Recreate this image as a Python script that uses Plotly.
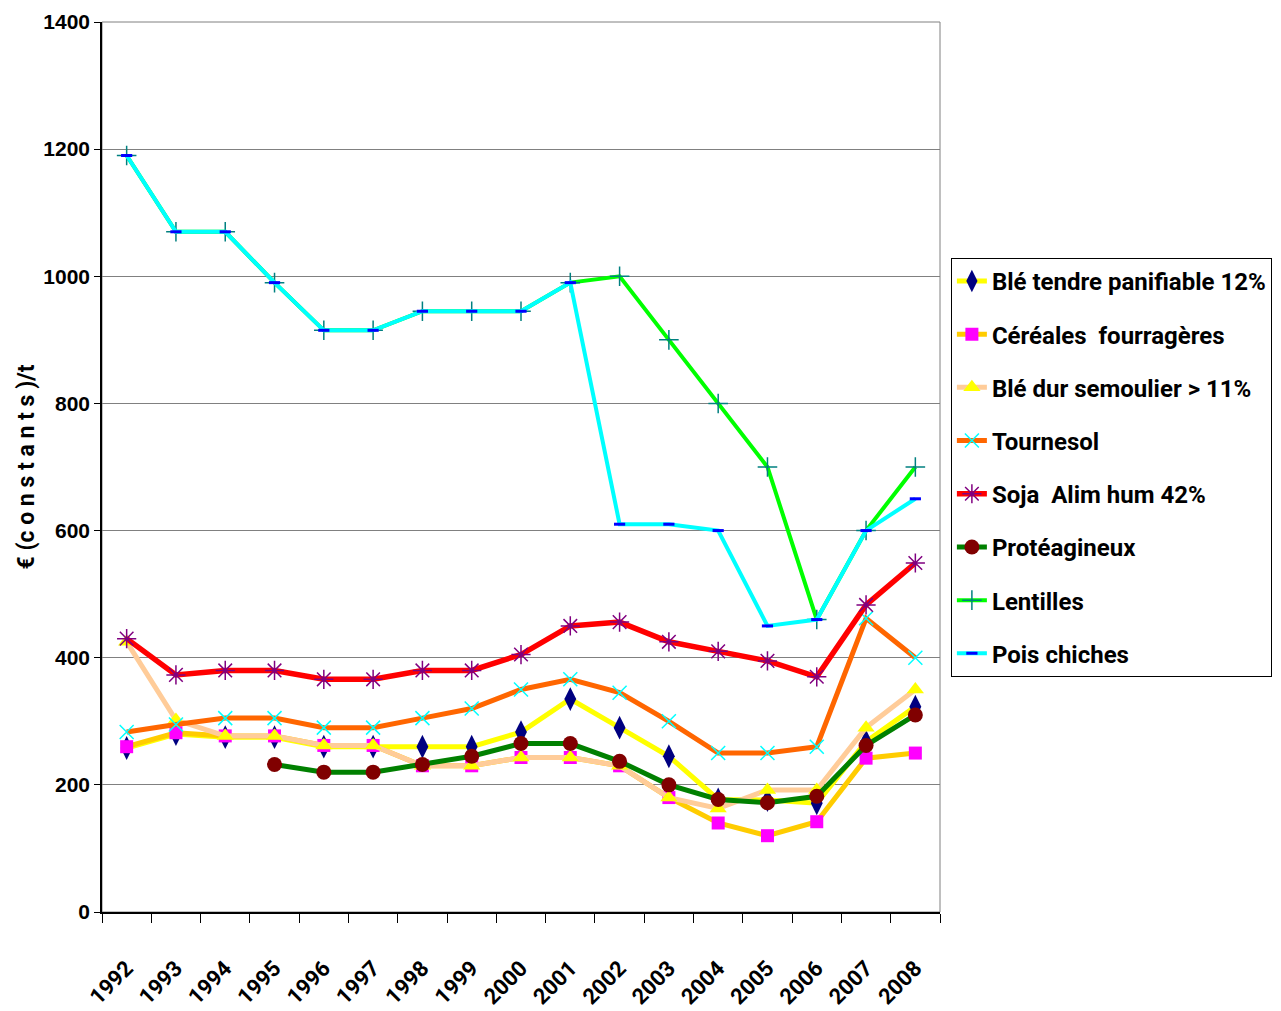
import plotly.graph_objects as go

years = [str(y) for y in range(1992, 2009)]

ble_tendre = [258, 280, 275, 275, 260, 260, 260, 260, 283, 335, 290, 245, 177, 176, 171, 268, 323]
cereales = [260, 282, 277, 277, 262, 262, 230, 230, 243, 243, 230, 180, 140, 120, 142, 242, 250]
ble_dur = [425, 302, 277, 277, 262, 262, 230, 230, 243, 243, 230, 180, 163, 192, 192, 290, 350]
tournesol = [283, 295, 305, 305, 290, 290, 305, 320, 350, 366, 345, 300, 250, 250, 260, 462, 400]
soja = [430, 373, 380, 380, 366, 366, 380, 380, 405, 450, 456, 425, 410, 395, 370, 483, 549]
proteagineux = [None, None, None, 232, 220, 220, 232, 245, 265, 265, 237, 200, 177, 172, 182, 262, 310]
lentilles = [1190, 1070, 1070, 990, 915, 915, 945, 945, 945, 990, 1000, 900, 800, 700, 460, 600, 700]
pois_chiches = [1190, 1070, 1070, 990, 915, 915, 945, 945, 945, 990, 610, 610, 600, 450, 460, 600, 650]

series = [
    ("Blé tendre panifiable 12%", ble_tendre, "#FFFF00", 5, dict(symbol="diamond-tall", size=17, color="#000080")),
    ("Céréales  fourragères", cereales, "#FFCC00", 5, dict(symbol="square", size=13, color="#FF00FF")),
    ("Blé dur semoulier > 11%", ble_dur, "#FFCC99", 5, dict(symbol="triangle-up", size=15, color="#FFFF00")),
    ("Tournesol", tournesol, "#FF6600", 5, dict(symbol="x-thin", size=14, color="#00FFFF", line=dict(color="#00FFFF", width=1.5))),
    ("Soja  Alim hum 42%", soja, "#FF0000", 5.5, dict(symbol="asterisk", size=16, color="#800080", line=dict(color="#800080", width=1.5))),
    ("Protéagineux", proteagineux, "#008000", 5, dict(symbol="circle", size=15, color="#800000")),
    ("Lentilles", lentilles, "#00FF00", 4, dict(symbol="cross-thin", size=14, color="#008080", line=dict(color="#008080", width=1.5))),
    ("Pois chiches", pois_chiches, "#00FFFF", 4, dict(symbol="line-ew", size=8, color="#0000FF", line=dict(color="#0000FF", width=3))),
]

fig = go.Figure()
for i, (name, vals, col, w, mk) in enumerate(series):
    fig.add_trace(go.Scatter(
        x=years, y=vals, name=name, mode="lines+markers",
        line=dict(color=col, width=w), marker=mk,
        legendgroup="g%d" % i, connectgaps=False,
    ))

narrow = "Roboto, Liberation Sans, sans-serif"

fig.update_layout(
    width=1273, height=1003,
    margin=dict(l=94, r=341, t=14, b=99, autoexpand=False),
    plot_bgcolor="white", paper_bgcolor="white",
    showlegend=True,
    legend=dict(
        x=1.013, y=0.735, xanchor="left", yanchor="top",
        bordercolor="black", borderwidth=1, bgcolor="white",
        font=dict(family=narrow, size=24, color="black", weight="bold"),
        tracegroupgap=19, itemwidth=30,
    ),
    xaxis=dict(
        type="category", tickson="boundaries", ticks="outside", ticklen=9,
        tickcolor="black", showline=True, linecolor="black", linewidth=1.5,
        showgrid=False, tickangle=-45, ticklabelstandoff=33,
        tickfont=dict(family=narrow, size=22, color="black", weight="bold"),
        range=[-0.5, 16.5],
    ),
    yaxis=dict(
        range=[0, 1400], dtick=200, ticks="outside", ticklen=6, tickcolor="black",
        showline=True, linecolor="black", linewidth=1.5,
        showgrid=True, gridcolor="#808080", gridwidth=1, zeroline=False,
        tickfont=dict(family="Liberation Sans, Arial, sans-serif", size=21, color="black", weight="bold"),
        title=dict(text="€ (c o n s t a n t s )/t", standoff=2,
                   font=dict(family=narrow, size=23, color="black", weight="bold")),
    ),
    shapes=[dict(type="rect", xref="paper", yref="paper", x0=0, y0=0, x1=1, y1=1,
                 line=dict(color="#808080", width=1), layer="below")],
)

fig.write_html("out.html")
